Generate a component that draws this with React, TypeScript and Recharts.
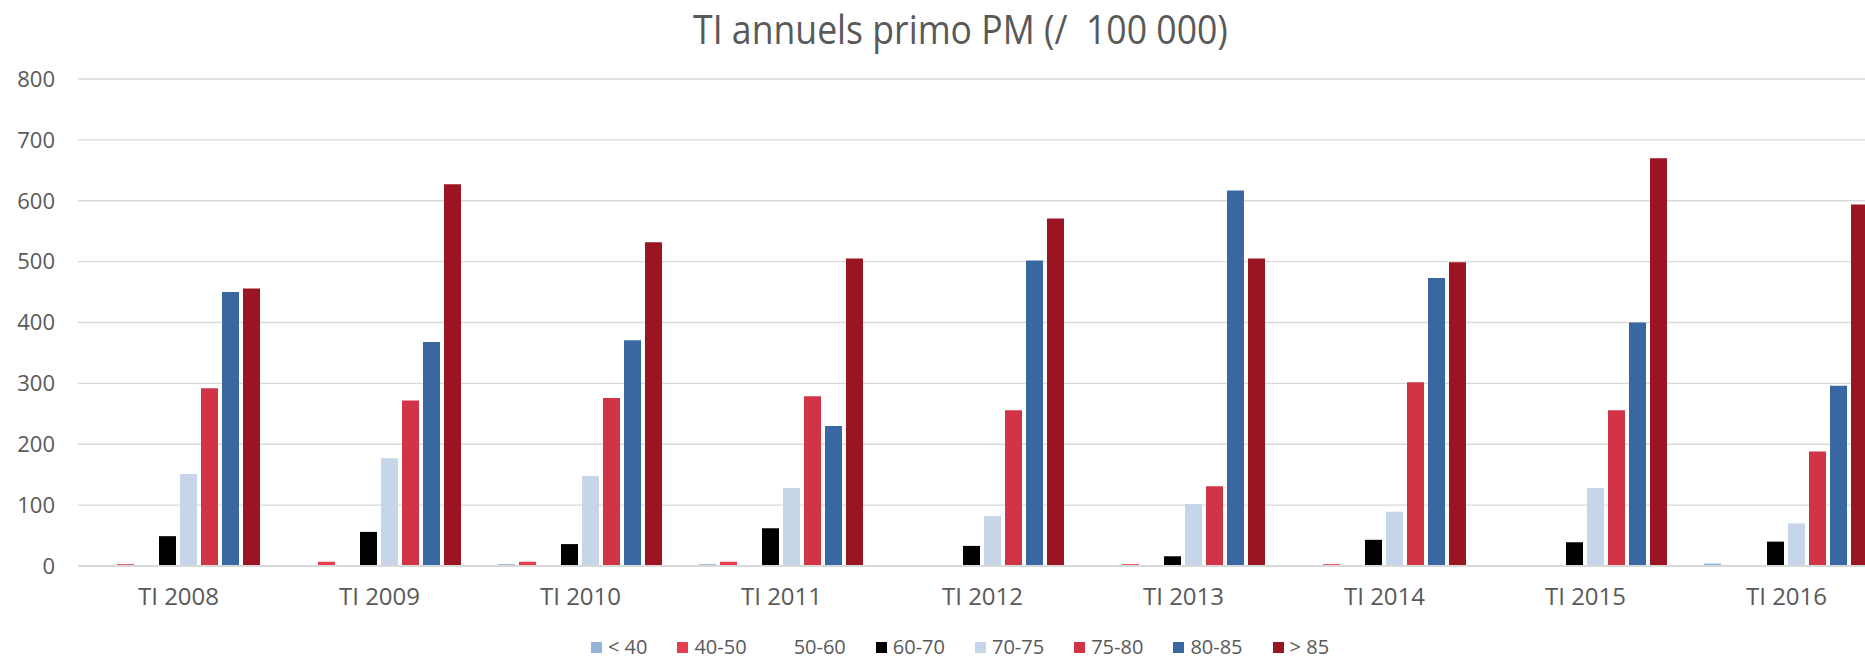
import { BarChart, Bar, XAxis, YAxis, CartesianGrid } from 'recharts'

const years = ['TI 2008', 'TI 2009', 'TI 2010', 'TI 2011', 'TI 2012', 'TI 2013', 'TI 2014', 'TI 2015', 'TI 2016']

const under40 = [0, 0, 3, 3, 0, 0, 0, 0, 4]
const age40_50 = [3, 7, 7, 7, 0, 3, 3, 0, 0]
const age50_60 = [0, 0, 0, 0, 0, 0, 0, 0, 0]
const age60_70 = [49, 56, 36, 62, 33, 16, 43, 39, 40]
const age70_75 = [151, 177, 148, 128, 82, 102, 89, 128, 70]
const age75_80 = [292, 272, 276, 279, 256, 131, 302, 256, 188]
const age80_85 = [450, 368, 371, 230, 502, 617, 473, 400, 296]
const over85 = [456, 627, 532, 505, 571, 505, 499, 670, 594]

const yTicks = [0, 100, 200, 300, 400, 500, 600, 700, 800]

const series = [
  { key: 'u40', name: '< 40', values: under40, color: '#95b3d7' },
  { key: 'a40', name: '40-50', values: age40_50, color: '#e63e4f' },
  { key: 'a50', name: '50-60', values: age50_60, color: '#ffffff' },
  { key: 'a60', name: '60-70', values: age60_70, color: '#000000' },
  { key: 'a70', name: '70-75', values: age70_75, color: '#c6d5e8' },
  { key: 'a75', name: '75-80', values: age75_80, color: '#d23447' },
  { key: 'a80', name: '80-85', values: age80_85, color: '#3867a1' },
  { key: 'o85', name: '> 85', values: over85, color: '#9b1422' },
]

const data = years.map((label, i) => {
  const row: Record<string, string | number> = { label }
  series.forEach((s) => { row[s.key] = s.values[i] })
  return row
})

const TEXT = '#595959'
const FONT = '"Open Sans", sans-serif'

export default function App() {
  return (
    <div style={{ position: 'absolute', left: 0, top: 0, width: 1865, height: 660, overflow: 'hidden', background: '#fff', fontFamily: FONT }}>
      {/* title and legend are centred on the full 1920px chart, which is cut at the right edge */}
      <div style={{ position: 'absolute', left: 55, top: 1, width: 1810, textAlign: 'center', fontSize: 40, color: TEXT }}>
        <span style={{ display: 'inline-block', transform: 'scaleX(0.89)', whiteSpace: 'pre' }}>TI annuels primo PM (/  100 000)</span>
      </div>
      <BarChart
        width={1920}
        height={660}
        data={data}
        margin={{ top: 79, right: 33, left: 0, bottom: 0 }}
        barCategoryGap={18}
        barGap={4}
      >
        <CartesianGrid vertical={false} stroke="#d9d9d9" strokeWidth={1.4} />
        <XAxis
          dataKey="label"
          height={94}
          tickSize={0}
          tickMargin={22}
          axisLine={{ stroke: '#d9d9d9', strokeWidth: 2 }}
          tick={{ fontSize: 24, fill: TEXT, fontFamily: FONT }}
          interval={0}
        />
        <YAxis
          width={78}
          domain={[0, 800]}
          ticks={yTicks}
          axisLine={false}
          tickSize={0}
          tickMargin={23}
          tick={{ fontSize: 22, fill: TEXT, fontFamily: FONT }}
        />
        {series.map((s) => (
          <Bar key={s.key} dataKey={s.key} name={s.name} fill={s.color} isAnimationActive={false} />
        ))}
      </BarChart>
      <div style={{ position: 'absolute', left: 55, top: 636, width: 1810, display: 'flex', justifyContent: 'center', fontSize: 20, lineHeight: '22px', color: TEXT }}>
        {series.map((s, i) => (
          <div key={s.key} style={{ display: 'flex', alignItems: 'center', marginRight: i === series.length - 1 ? 0 : 30 }}>
            <span style={{ width: 11, height: 11, background: s.color, marginRight: 6, display: 'inline-block' }} />
            <span>{s.name}</span>
          </div>
        ))}
      </div>
    </div>
  )
}
